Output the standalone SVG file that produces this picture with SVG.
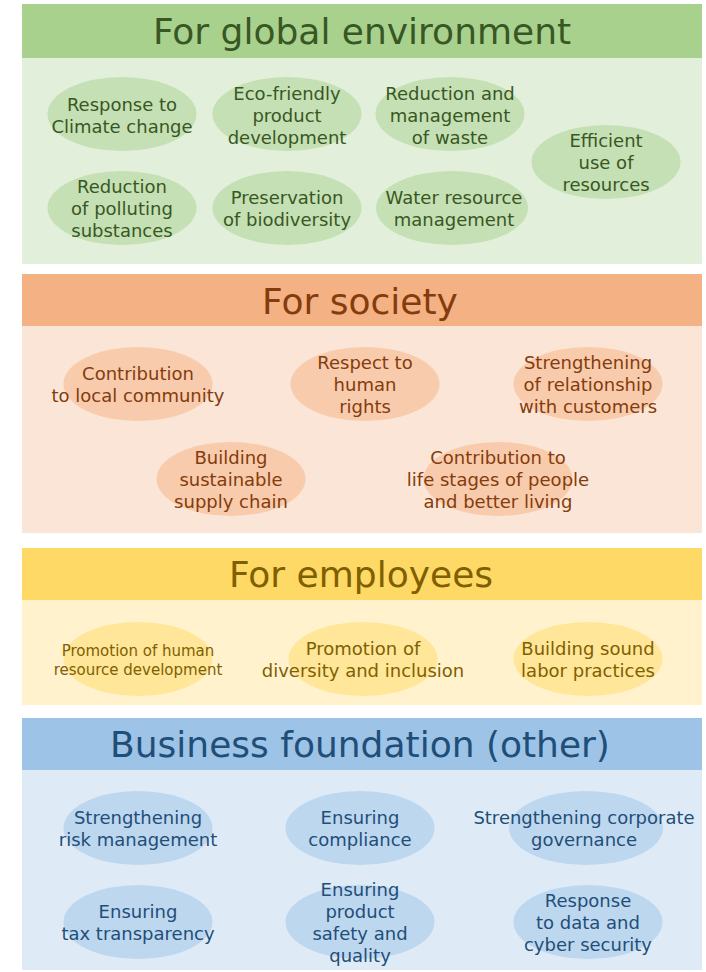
<svg xmlns="http://www.w3.org/2000/svg" width="706" height="972" viewBox="0 0 706 972">
<style>
text{font-family:"DejaVu Sans","Verdana",sans-serif;text-anchor:middle}
.t{font-size:36px}
.n{font-size:18px}
.s{font-size:15px}
.g .hd{fill:#a9d18e}.g .bd{fill:#e2efda}.g ellipse{fill:#c5e0b4}.g text{fill:#385723}
.o .hd{fill:#f4b183}.o .bd{fill:#fbe5d6}.o ellipse{fill:#f8cbad}.o text{fill:#843c0c}
.y .hd{fill:#ffd966}.y .bd{fill:#fff2cc}.y ellipse{fill:#ffe699}.y text{fill:#7f6000}
.b .hd{fill:#9dc3e6}.b .bd{fill:#deebf7}.b ellipse{fill:#bdd7ee}.b text{fill:#1f4e79}
</style>
<rect width="706" height="972" fill="#ffffff"/>

<g id="sec-env" class="g">
<rect class="hd" x="22" y="4" width="680" height="54"/>
<rect class="bd" x="22" y="58" width="680" height="206"/>
<text class="t" x="362" y="44">For global environment</text>
<g id="n-climate"><ellipse cx="122" cy="114" rx="74.5" ry="37"/><text class="n" x="122" y="111">Response to</text><text class="n" x="122" y="133">Climate change</text></g>
<g id="n-eco"><ellipse cx="287" cy="114" rx="74.5" ry="37"/><text class="n" x="287" y="100">Eco-friendly</text><text class="n" x="287" y="122">product</text><text class="n" x="287" y="144">development</text></g>
<g id="n-waste"><ellipse cx="450" cy="114" rx="74.5" ry="37"/><text class="n" x="450" y="100">Reduction and</text><text class="n" x="450" y="122">management</text><text class="n" x="450" y="144">of waste</text></g>
<g id="n-efficient"><ellipse cx="606" cy="162" rx="74.5" ry="37"/><text class="n" x="606" y="147">Efficient</text><text class="n" x="606" y="169">use of</text><text class="n" x="606" y="191">resources</text></g>
<g id="n-polluting"><ellipse cx="122" cy="208" rx="74.5" ry="37"/><text class="n" x="122" y="193">Reduction</text><text class="n" x="122" y="215">of polluting</text><text class="n" x="122" y="237">substances</text></g>
<g id="n-biodiversity"><ellipse cx="287" cy="208" rx="74.5" ry="37"/><text class="n" x="287" y="204">Preservation</text><text class="n" x="287" y="226">of biodiversity</text></g>
<g id="n-water"><ellipse cx="452" cy="208" rx="76" ry="37"/><text class="n" x="454" y="204">Water resource</text><text class="n" x="454" y="226">management</text></g>
</g>

<g id="sec-society" class="o">
<rect class="hd" x="22" y="274" width="680" height="52"/>
<rect class="bd" x="22" y="326" width="680" height="207"/>
<text class="t" x="360" y="314">For society</text>
<g id="n-community"><ellipse cx="138" cy="384" rx="74.5" ry="37"/><text class="n" x="138" y="380">Contribution</text><text class="n" x="138" y="402">to local community</text></g>
<g id="n-rights"><ellipse cx="365" cy="384" rx="74.5" ry="37"/><text class="n" x="365" y="369">Respect to</text><text class="n" x="365" y="391">human</text><text class="n" x="365" y="413">rights</text></g>
<g id="n-customers"><ellipse cx="588" cy="384" rx="74.5" ry="37"/><text class="n" x="588" y="369">Strengthening</text><text class="n" x="588" y="391">of relationship</text><text class="n" x="588" y="413">with customers</text></g>
<g id="n-supply"><ellipse cx="231" cy="479" rx="74.5" ry="37"/><text class="n" x="231" y="464">Building</text><text class="n" x="231" y="486">sustainable</text><text class="n" x="231" y="508">supply chain</text></g>
<g id="n-lifestages"><ellipse cx="498" cy="479" rx="74.5" ry="37"/><text class="n" x="498" y="464">Contribution to</text><text class="n" x="498" y="486">life stages of people</text><text class="n" x="498" y="508">and better living</text></g>
</g>

<g id="sec-employees" class="y">
<rect class="hd" x="22" y="548" width="680" height="52"/>
<rect class="bd" x="22" y="600" width="680" height="105"/>
<text class="t" x="361" y="587">For employees</text>
<g id="n-hrd"><ellipse cx="138" cy="659" rx="74.5" ry="37"/><text class="s" x="138" y="656">Promotion of human</text><text class="s" x="138" y="675">resource development</text></g>
<g id="n-diversity"><ellipse cx="363" cy="659" rx="74.5" ry="37"/><text class="n" x="363" y="655">Promotion of</text><text class="n" x="363" y="677">diversity and inclusion</text></g>
<g id="n-labor"><ellipse cx="588" cy="659" rx="74.5" ry="37"/><text class="n" x="588" y="655">Building sound</text><text class="n" x="588" y="677">labor practices</text></g>
</g>

<g id="sec-foundation" class="b">
<rect class="hd" x="22" y="718" width="680" height="52"/>
<rect class="bd" x="22" y="770" width="680" height="200"/>
<text class="t" x="360" y="757">Business foundation (other)</text>
<g id="n-risk"><ellipse cx="138" cy="828" rx="74.5" ry="37"/><text class="n" x="138" y="824">Strengthening</text><text class="n" x="138" y="846">risk management</text></g>
<g id="n-compliance"><ellipse cx="360" cy="828" rx="74.5" ry="37"/><text class="n" x="360" y="824">Ensuring</text><text class="n" x="360" y="846">compliance</text></g>
<g id="n-governance"><ellipse cx="586" cy="828" rx="77" ry="37"/><text class="n" x="584" y="824">Strengthening corporate</text><text class="n" x="584" y="846">governance</text></g>
<g id="n-tax"><ellipse cx="138" cy="922" rx="74.5" ry="37"/><text class="n" x="138" y="918">Ensuring</text><text class="n" x="138" y="940">tax transparency</text></g>
<g id="n-safety"><ellipse cx="360" cy="922" rx="74.5" ry="37"/><text class="n" x="360" y="896">Ensuring</text><text class="n" x="360" y="918">product</text><text class="n" x="360" y="940">safety and</text><text class="n" x="360" y="962">quality</text></g>
<g id="n-cyber"><ellipse cx="588" cy="922" rx="74.5" ry="37"/><text class="n" x="588" y="907">Response</text><text class="n" x="588" y="929">to data and</text><text class="n" x="588" y="951">cyber security</text></g>
</g>

<g id="connectors"/>
</svg>
